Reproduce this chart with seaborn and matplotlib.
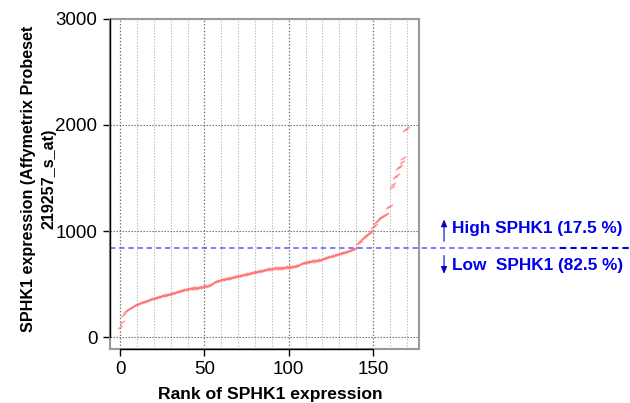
import numpy as np
import pandas as pd
import matplotlib
matplotlib.use("Agg")
import matplotlib.pyplot as plt
import matplotlib.transforms as mtransforms
import seaborn as sns

# Sorted SPHK1 expression values (Affymetrix probeset 219257_s_at), one per sample
expression = [
    97, 140, 205, 238, 255,
    265, 275, 283, 292, 300, 307, 313, 320, 327, 333,
    338, 344, 350, 355, 360, 365, 370, 375, 380, 384, 388, 392, 396,
    400, 405, 410, 414, 419, 423, 428, 432, 437, 443,
    446, 449, 452, 455, 458, 460, 463, 465, 467, 469,
    472, 475, 478, 481, 484, 488, 495, 505,
    522, 527, 532, 536, 540, 544, 548, 551, 554, 557, 560, 563,
    567, 571, 575, 579, 583, 587, 590, 594, 597, 601,
    605, 609, 612, 616, 620, 623, 627, 631, 634, 638,
    641, 644, 646, 648, 650, 651, 652, 653, 654, 655, 657,
    659, 661, 663, 665, 667, 669, 672,
    680, 688, 695, 700, 705, 708, 712,
    715, 717, 719, 721, 724, 726,
    731, 736, 741, 746, 751, 755, 760, 764,
    769, 774, 779, 784, 789, 794, 799, 805,
    810, 816, 822, 828, 833, 838,
    884, 900, 915, 931, 945, 958, 969, 978, 1000, 1040,
    1060, 1085, 1105, 1120, 1130, 1140, 1151, 1165, 1223, 1235,
    1412, 1440, 1512, 1530, 1591, 1615, 1654, 1692, 1950, 1975,
]
ranks = list(range(len(expression)))

cutoff = 840
high_label = "High SPHK1 (17.5 %)"
low_label = "Low  SPHK1 (82.5 %)"
x_ticks = [0, 50, 100, 150]
y_ticks = [0, 1000, 2000, 3000]

df = pd.DataFrame({"rank": ranks, "expression": expression})

sns.set_theme(style="white")
plt.rcParams["font.family"] = ["Liberation Sans", "DejaVu Sans"]

fig = plt.figure(figsize=(6.30, 4.03), dpi=100)
ax = fig.add_axes([0.1746, 0.134, 0.4905, 0.8189])

# vertical dotted grid every 10 ranks, darker at labelled ticks
for gx in range(0, 171, 10):
    major = gx % 50 == 0
    ax.axvline(gx, color="#777777" if major else "#bbbbbb",
               lw=0.9 if major else 0.8, ls=(0, (1.2, 1.5)), zorder=1)
for gy in y_ticks:
    ax.axhline(gy, color="#666666", lw=0.8, ls=(0, (1.2, 1.5)), zorder=1)

# each sample drawn as a short slanted dash
sns.scatterplot(data=df, x="rank", y="expression", marker=(2, 2, -60), s=12,
                color="#ff6a6a", alpha=0.6, linewidth=1.0, ax=ax, zorder=3,
                legend=False)

ax.set_xlim(-6, 177.3)
ax.set_ylim(-113, 3000)
ax.set_xticks(x_ticks)
ax.set_yticks(y_ticks)
ax.tick_params(axis="both", which="major", direction="out", length=5, width=1,
               color="black", labelsize=13.5, pad=4, bottom=True, left=True,
               labelcolor="black")

for sp in ax.spines.values():
    sp.set_color("#999999")
    sp.set_linewidth(1.5)

# black axis lines over the tick range
tx = mtransforms.blended_transform_factory(ax.transAxes, ax.transData)
ty = mtransforms.blended_transform_factory(ax.transData, ax.transAxes)
ax.plot([0, 0], [0, 3000], transform=tx, color="black", lw=1, clip_on=False, zorder=5)
ax.plot([0, 150], [0, 0], transform=ty, color="black", lw=1, clip_on=False, zorder=5)

ax.set_xlabel("Rank of SPHK1 expression", fontsize=12.6, fontweight="bold",
              labelpad=3, color="black")
ax.xaxis.set_label_coords(0.52, -0.115)
ax.set_ylabel("SPHK1 expression (Affymetrix Probeset\n219257_s_at)", fontsize=11.6,
              fontweight="bold", linespacing=1.45, color="black")
ax.yaxis.set_label_coords(-0.172, 0.515)

# cutoff line, extending past the axes to the group labels
ax.plot([0, 1.456], [cutoff, cutoff], transform=tx, color="#4a4aff", lw=1.1,
        ls=(0, (3.5, 2.5)), clip_on=False, zorder=4, alpha=0.9)
ax.plot([1.456, 1.683], [cutoff, cutoff], transform=tx, color="#0000dd", lw=1.5,
        ls=(0, (3, 2)), clip_on=False, zorder=4)

arrow_kw = dict(arrowstyle="-|>,head_length=0.35,head_width=0.15", color="#0000cc", lw=0.8)
ax.annotate("", xy=(1.081, 1135), xytext=(1.081, 878), xycoords=tx, textcoords=tx,
            arrowprops=arrow_kw, annotation_clip=False)
ax.annotate("", xy=(1.081, 570), xytext=(1.081, 795), xycoords=tx, textcoords=tx,
            arrowprops=arrow_kw, annotation_clip=False)
ax.text(1.107, 1025, high_label, transform=tx, color="#0000ee", fontsize=12.4,
        fontweight="bold", va="center", ha="left")
ax.text(1.107, 679, low_label, transform=tx, color="#0000ee", fontsize=12.4,
        fontweight="bold", va="center", ha="left")

fig.savefig("out.png", dpi=100, facecolor="white")
